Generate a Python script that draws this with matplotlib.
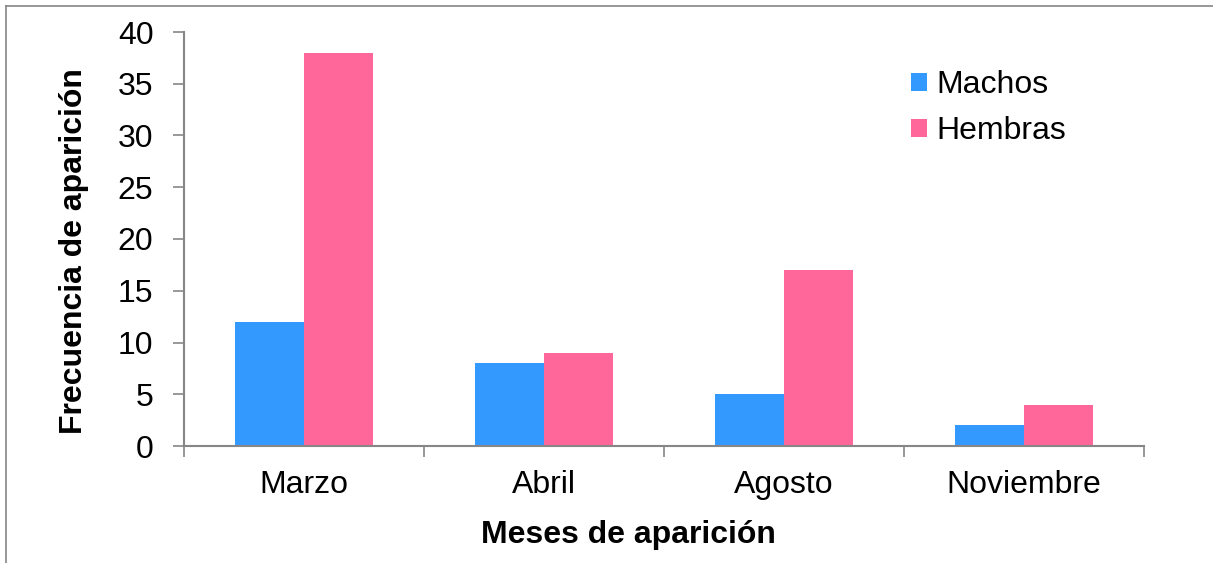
import numpy as np
import matplotlib.pyplot as plt
from matplotlib.lines import Line2D

plt.rcParams['font.family'] = ['Liberation Sans', 'DejaVu Sans']

# ---- data ----
meses = ['Marzo', 'Abril', 'Agosto', 'Noviembre']
machos = [12, 8, 5, 2]
hembras = [38, 9, 17, 4]

azul = '#3399FF'
rosa = '#FF6699'
gris = '#868686'
fs = 23

fig = plt.figure(figsize=(12.13, 5.63), dpi=100)
ax = fig.add_axes([184/1213, 1 - 446/563, (1144 - 184)/1213, (446 - 32)/563])

x = np.arange(len(meses))
w = 0.2875
ax.bar(x - w/2, machos, w, color=azul, label='Machos')
ax.bar(x + w/2, hembras, w, color=rosa, label='Hembras')

ax.set_xlim(-0.5, len(meses) - 0.5)
ax.set_ylim(0, 40)
ax.set_yticks(range(0, 41, 5))

# category boundaries as ticks, names in the middle
ax.set_xticks(np.arange(-0.5, len(meses), 1.0))
ax.set_xticklabels([])
ax.set_xticks(x, minor=True)
ax.set_xticklabels(meses, minor=True, fontsize=fs)
ax.tick_params(axis='x', which='minor', length=0, pad=17)
ax.tick_params(axis='x', which='major', length=8, color=gris, width=1.2)
ax.tick_params(axis='y', length=8, color=gris, width=1.2, labelsize=fs, pad=14)

for s in ['top', 'right']:
    ax.spines[s].set_visible(False)
for s in ['left', 'bottom']:
    ax.spines[s].set_color(gris)
    ax.spines[s].set_linewidth(1.5)

ax.set_xlabel('Meses de aparición', fontsize=fs, fontweight='bold', labelpad=15)
ax.set_ylabel('Frecuencia de aparición', fontsize=fs, fontweight='bold', labelpad=21)
ax.xaxis.label.set_x(0.4625)
ax.yaxis.label.set_y(0.471)

ax.legend(loc='upper left', bbox_to_anchor=(911/1213, 1 - 70/563),
          bbox_transform=fig.transFigure, frameon=False, fontsize=fs,
          handlelength=0.5, handleheight=0.5, handletextpad=0.28,
          labelspacing=0.5, borderpad=0, borderaxespad=0)

# outer chart border (top and left visible)
fig.add_artist(Line2D([6/1213, 1], [1 - 6/563, 1 - 6/563], color=gris, lw=1.2))
fig.add_artist(Line2D([6/1213, 6/1213], [0, 1 - 6/563], color=gris, lw=1.2))

fig.savefig('out.png', dpi=100)
